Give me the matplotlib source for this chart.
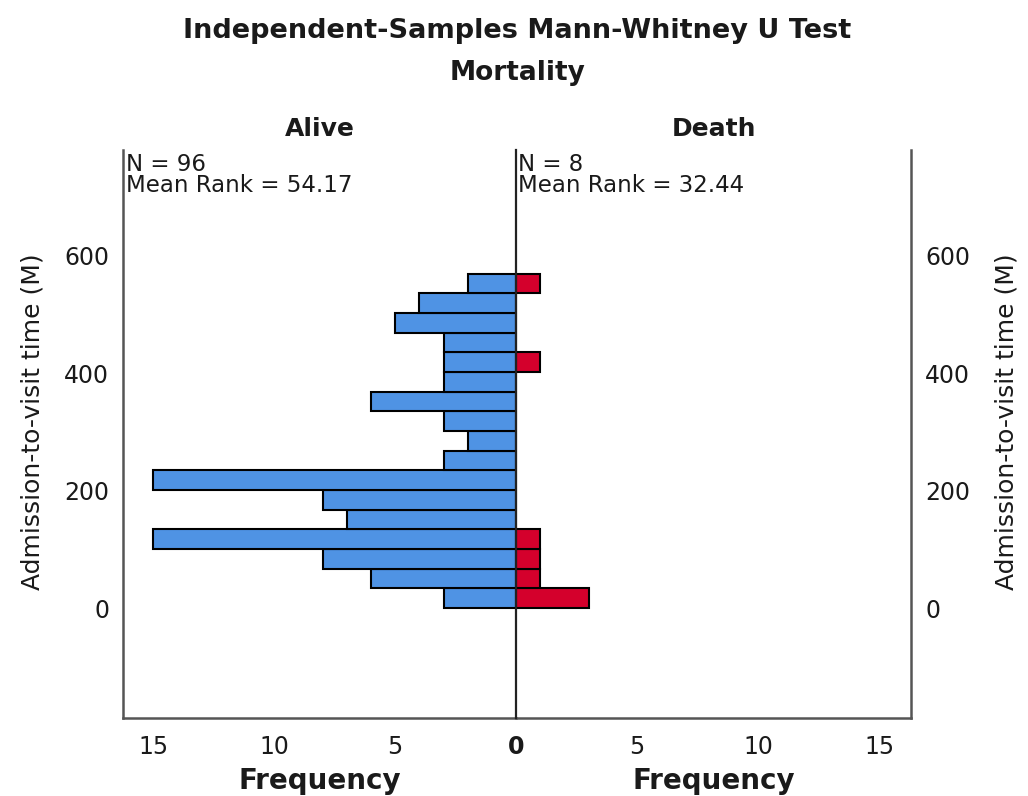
import numpy as np
import matplotlib
matplotlib.use("Agg")
import matplotlib.pyplot as plt

# histogram bins of admission-to-visit time (M), bottom to top
bin_start = 0.0
bin_width = 33.5
alive_counts = [3, 6, 8, 15, 7, 8, 15, 3, 2, 3, 6, 3, 3, 3, 5, 4, 2]
death_counts = [3, 1, 1, 1, 0, 0, 0, 0, 0, 0, 0, 0, 1, 0, 0, 0, 1]

groups = ["Alive", "Death"]
group_n = [96, 8]
mean_rank = [54.17, 32.44]

y_ticks = [0, 200, 400, 600]
x_ticks = [0, 5, 10, 15]

plt.rcParams['font.family'] = ['DejaVu Sans']
blue = '#4f93e4'
red = '#d4002c'
spine_col = '#555555'
txt_col = '#1a1a1a'

lower = bin_start + np.arange(len(alive_counts)) * bin_width

fig = plt.figure(figsize=(10.28, 7.96), dpi=100)
axL = fig.add_axes([0.1197, 0.098, 0.3823, 0.7136])
axR = fig.add_axes([0.502, 0.098, 0.3843, 0.7136], sharey=axL)
axR.patch.set_alpha(0)

axL.barh(lower, alive_counts, height=bin_width, align='edge', color=blue,
         edgecolor='black', linewidth=1.5, zorder=2)
axR.barh(lower, death_counts, height=bin_width, align='edge', color=red,
         edgecolor='black', linewidth=1.5, zorder=2)

axL.set_xlim(16.25, 0)
axR.set_xlim(0, 16.3)
axL.set_ylim(-187, 780)

for ax in (axL, axR):
    ax.spines['top'].set_visible(False)
    ax.spines['bottom'].set_color(spine_col)
    ax.spines['bottom'].set_linewidth(1.8)
    ax.set_yticks(y_ticks)
    ax.tick_params(length=0, labelsize=17, colors=txt_col)
    ax.tick_params(axis='y', pad=10)
    ax.tick_params(axis='x', pad=12)
    ax.set_xlabel('Frequency', fontsize=20, fontweight='bold', color=txt_col, labelpad=6)

axL.spines['left'].set_color(spine_col)
axL.spines['left'].set_linewidth(1.8)
axL.spines['right'].set_visible(False)
axR.spines['left'].set_color('#222222')
axR.spines['left'].set_linewidth(1.6)
axR.spines['left'].set_zorder(3)
axR.spines['right'].set_color(spine_col)
axR.spines['right'].set_linewidth(1.8)

axL.set_xticks(x_ticks)
axR.set_xticks(x_ticks[1:])
axL.get_xticklabels()[0].set_fontweight('bold')

axR.yaxis.tick_right()
axR.yaxis.set_label_position('right')
axR.tick_params(axis='y', labelleft=False, labelright=True)

ylab = 'Admission-to-visit time (M)'
axL.set_ylabel(ylab, fontsize=18, color=txt_col)
axR.set_ylabel(ylab, fontsize=18, color=txt_col, rotation=90)
axL.yaxis.set_label_coords(-0.2, 0.521)
axR.yaxis.set_label_coords(1.212, 0.521)

for ax, g, n, mr in zip((axL, axR), groups, group_n, mean_rank):
    ax.set_title(g, fontsize=18, fontweight='bold', color=txt_col, pad=10)
    ax.text(0.008 if ax is axL else 0.006, 0.995, f'N = {n}\nMean Rank = {mr:.2f}',
            transform=ax.transAxes, ha='left', va='top', fontsize=16.5,
            color=txt_col, linespacing=0.9)

fig.text(0.503, 0.961, 'Independent-Samples Mann-Whitney U Test', ha='center', va='center',
         fontsize=19.5, fontweight='bold', color=txt_col)
fig.text(0.503, 0.908, 'Mortality', ha='center', va='center',
         fontsize=19, fontweight='bold', color=txt_col)

fig.savefig('out.png', dpi=100)
